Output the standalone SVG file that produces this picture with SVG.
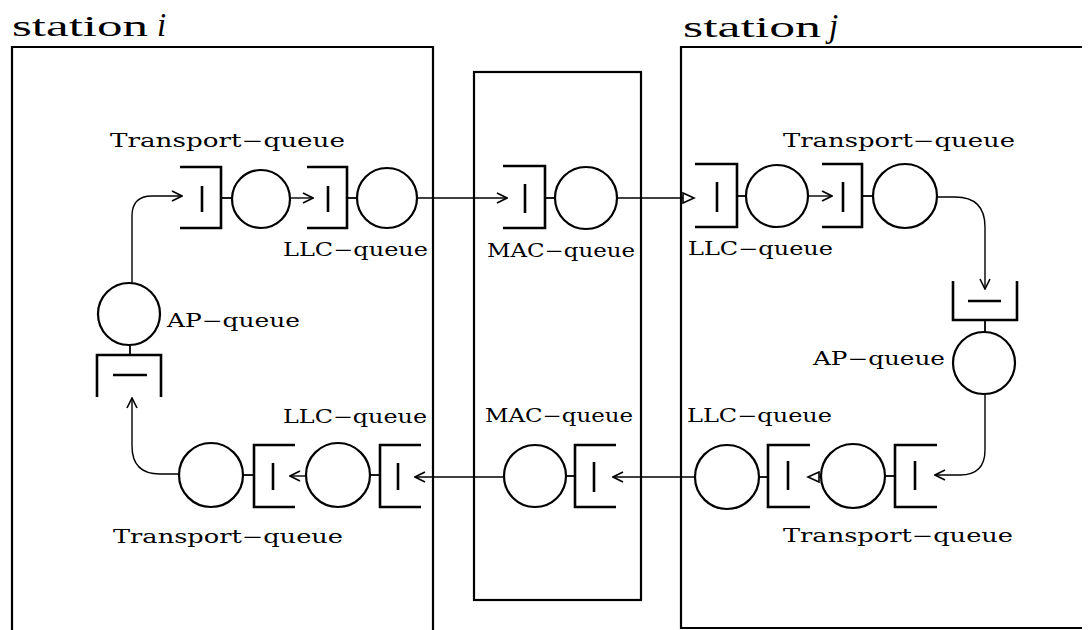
<svg xmlns="http://www.w3.org/2000/svg" width="1091" height="630" viewBox="0 0 1091 630">
<style>
.box{fill:none;stroke:#000;stroke-width:2.2}
.q{fill:none;stroke:#000;stroke-width:2.6}
.bar{stroke:#000;stroke-width:2.6}
.srv{fill:none;stroke:#000;stroke-width:2.2}
.tie{stroke:#000;stroke-width:1.8}
.cn{fill:none;stroke:#000;stroke-width:1.4}
.lbl{font-family:"DejaVu Serif","Liberation Serif",serif;font-size:18px;fill:#000}
.ttl{font-family:"Liberation Serif","DejaVu Serif",serif;font-size:29px;fill:#000}
.it{font-family:"Liberation Serif","DejaVu Serif",serif;font-style:italic;font-size:33px;fill:#000}
</style>
<defs>
<marker id="av" markerUnits="userSpaceOnUse" markerWidth="12" markerHeight="12" refX="11" refY="6" orient="auto">
<path d="M1,1 L11,6 L1,11" fill="none" stroke="#000" stroke-width="1.6"/>
</marker>
<marker id="at" markerUnits="userSpaceOnUse" markerWidth="14" markerHeight="12" refX="12" refY="6" orient="auto">
<path d="M1,1 L12,6 L1,11 Z" fill="#fff" stroke="#000" stroke-width="1.6"/>
</marker>
</defs>
<rect width="1091" height="630" fill="#fff"/>

<g id="station-i">
<path class="box" d="M12,630 V47 H433 V630"/>
<text class="ttl" x="12" y="36" textLength="136" lengthAdjust="spacingAndGlyphs">station</text>
<text class="it" x="157" y="36">i</text>
</g>
<g id="station-j">
<path class="box" d="M1082,47 H681 V628 H1082"/>
<text class="ttl" x="683" y="37" textLength="138" lengthAdjust="spacingAndGlyphs">station</text>
<text class="it" x="829" y="37">j</text>
</g>
<g id="mac-box">
<rect class="box" x="474" y="72" width="167" height="528"/>
</g>

<!-- top row -->
<g id="i-transport-top">
<path class="q" d="M180,167 H221 V228 H180"/>
<line class="bar" x1="202" y1="186" x2="202" y2="212"/>
<line class="tie" x1="221" y1="198" x2="232" y2="198"/>
<circle class="srv" cx="261" cy="199" r="29"/>
<text class="lbl" x="110" y="147" textLength="235" lengthAdjust="spacingAndGlyphs">Transport−queue</text>
</g>
<g id="i-llc-top">
<path class="q" d="M307,167 H347 V228 H307"/>
<line class="bar" x1="328" y1="186" x2="328" y2="212"/>
<line class="tie" x1="347" y1="198" x2="357" y2="198"/>
<circle class="srv" cx="387" cy="198" r="30"/>
<text class="lbl" x="283" y="256" textLength="145" lengthAdjust="spacingAndGlyphs">LLC−queue</text>
</g>
<g id="mac-top">
<path class="q" d="M503,166 H545 V228 H503"/>
<line class="bar" x1="525" y1="184" x2="525" y2="213"/>
<line class="tie" x1="545" y1="198" x2="555" y2="198"/>
<circle class="srv" cx="586" cy="198" r="31"/>
<text class="lbl" x="487" y="257" textLength="148" lengthAdjust="spacingAndGlyphs">MAC−queue</text>
</g>
<g id="j-llc-top">
<path class="q" d="M695,164 H737 V227 H695"/>
<line class="bar" x1="717" y1="182" x2="717" y2="212"/>
<line class="tie" x1="737" y1="196" x2="746" y2="196"/>
<circle class="srv" cx="777" cy="196" r="31"/>
<text class="lbl" x="688" y="255" textLength="145" lengthAdjust="spacingAndGlyphs">LLC−queue</text>
</g>
<g id="j-transport-top">
<path class="q" d="M822,164 H862 V227 H822"/>
<line class="bar" x1="843" y1="182" x2="843" y2="212"/>
<line class="tie" x1="862" y1="196" x2="873" y2="196"/>
<circle class="srv" cx="905" cy="196" r="32"/>
<text class="lbl" x="783" y="147" textLength="232" lengthAdjust="spacingAndGlyphs">Transport−queue</text>
</g>
<g id="j-ap">
<path class="q" d="M953,281 V320 H1017 V281"/>
<line class="bar" x1="968" y1="301" x2="1001" y2="301"/>
<line class="tie" x1="985" y1="320" x2="985" y2="332"/>
<circle class="srv" cx="984" cy="363" r="31"/>
<text class="lbl" x="813" y="365" textLength="132" lengthAdjust="spacingAndGlyphs">AP−queue</text>
</g>

<!-- bottom row -->
<g id="j-transport-bottom">
<path class="q" d="M937,445 H895 V507 H937"/>
<line class="bar" x1="915" y1="461" x2="915" y2="490"/>
<line class="tie" x1="886" y1="476" x2="895" y2="476"/>
<circle class="srv" cx="853" cy="476" r="32"/>
<text class="lbl" x="783" y="542" textLength="230" lengthAdjust="spacingAndGlyphs">Transport−queue</text>
</g>
<g id="j-llc-bottom">
<path class="q" d="M810,445 H768 V507 H810"/>
<line class="bar" x1="788" y1="461" x2="788" y2="490"/>
<line class="tie" x1="759" y1="477" x2="768" y2="477"/>
<circle class="srv" cx="727" cy="477" r="32"/>
<text class="lbl" x="687" y="422" textLength="145" lengthAdjust="spacingAndGlyphs">LLC−queue</text>
</g>
<g id="mac-bottom">
<path class="q" d="M616,445 H575 V507 H616"/>
<line class="bar" x1="594" y1="462" x2="594" y2="492"/>
<line class="tie" x1="566" y1="476" x2="575" y2="476"/>
<circle class="srv" cx="535" cy="476" r="31"/>
<text class="lbl" x="485" y="422" textLength="148" lengthAdjust="spacingAndGlyphs">MAC−queue</text>
</g>
<g id="i-llc-bottom">
<path class="q" d="M421,445 H380 V507 H421"/>
<line class="bar" x1="398" y1="463" x2="398" y2="490"/>
<line class="tie" x1="370" y1="475" x2="380" y2="475"/>
<circle class="srv" cx="338" cy="475" r="32"/>
<text class="lbl" x="283" y="423" textLength="144" lengthAdjust="spacingAndGlyphs">LLC−queue</text>
</g>
<g id="i-transport-bottom">
<path class="q" d="M295,445 H254 V507 H295"/>
<line class="bar" x1="273" y1="463" x2="273" y2="490"/>
<line class="tie" x1="244" y1="475" x2="254" y2="475"/>
<circle class="srv" cx="211" cy="475" r="32"/>
<text class="lbl" x="113" y="543" textLength="230" lengthAdjust="spacingAndGlyphs">Transport−queue</text>
</g>
<g id="i-ap">
<path class="q" d="M97,397 V355 H161 V397"/>
<line class="bar" x1="113" y1="375" x2="147" y2="375"/>
<line class="tie" x1="130" y1="345" x2="130" y2="355"/>
<circle class="srv" cx="129" cy="314" r="31"/>
<text class="lbl" x="167" y="327" textLength="133" lengthAdjust="spacingAndGlyphs">AP−queue</text>
</g>

<g id="connectors">
<path class="cn" d="M132,283 V216 Q132,196 152,196 H182" marker-end="url(#av)"/>
<path class="cn" d="M290,198 H313" marker-end="url(#av)"/>
<path class="cn" d="M418,198 H507" marker-end="url(#av)"/>
<path class="cn" d="M617,198 H694" marker-end="url(#at)"/>
<path class="cn" d="M808,196 H832" marker-end="url(#av)"/>
<path class="cn" d="M937,197 H955 Q985,197 985,227 V289" marker-end="url(#av)"/>
<path class="cn" d="M985,394 V450 Q985,475 960,475 H935" marker-end="url(#av)"/>
<path class="cn" d="M821,477 H808" marker-end="url(#at)"/>
<path class="cn" d="M695,477 H613" marker-end="url(#av)"/>
<path class="cn" d="M503,477 H415" marker-end="url(#av)"/>
<path class="cn" d="M305,476 H290" marker-end="url(#av)"/>
<path class="cn" d="M179,474 H160 Q132,474 132,446 V398" marker-end="url(#av)"/>
</g>
</svg>
